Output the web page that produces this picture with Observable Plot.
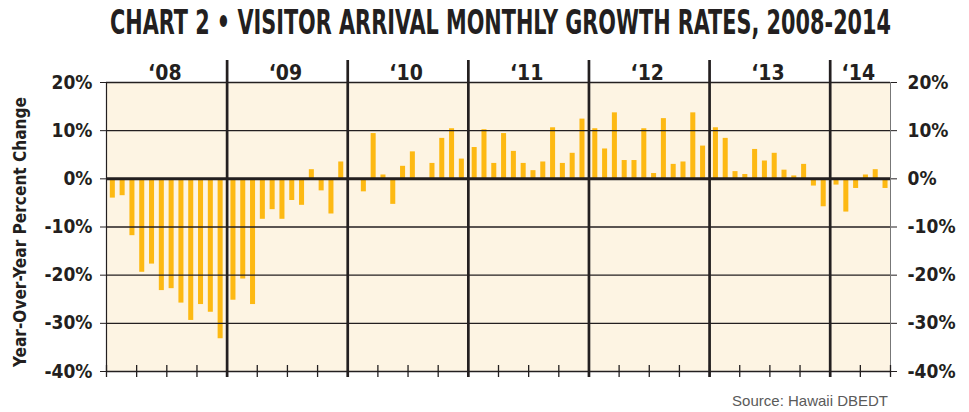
<!DOCTYPE html>
<html>
<head>
<meta charset="utf-8">
<script src="https://cdn.jsdelivr.net/npm/d3@7"></script>
<script src="https://cdn.jsdelivr.net/npm/@observablehq/plot@0.6"></script>
<style>
  html, body { margin: 0; padding: 0; background: #ffffff; }
  body { width: 969px; height: 412px; overflow: hidden; }
  #title {
    position: relative; height: 46px;
    font-family: "Liberation Sans Narrow", "DejaVu Sans Condensed", sans-serif;
    font-stretch: condensed; font-weight: bold; font-size: 30px; color: #231f20;
    white-space: nowrap;
  }
  #title span {
    position: absolute; left: 110px; top: 0; line-height: 46px;
    transform-origin: 0 50%;
  }
  #source {
    box-sizing: border-box; height: 29px; padding-top: 10px; padding-right: 81px;
    text-align: right; font-family: "Liberation Sans", Arial, sans-serif;
    font-size: 15px; color: #5a5a5a; line-height: 16px;
  }
  #chart svg { display: block; }
</style>
</head>
<body>
<div id="title"><span>CHART 2 • VISITOR ARRIVAL MONTHLY GROWTH RATES, 2008-2014</span></div>
<div id="chart"></div>
<div id="source">Source: Hawaii DBEDT</div>
<script>
// ---- data (year-over-year % change in visitor arrivals, by month) ----
const years = [2008, 2009, 2010, 2011, 2012, 2013, 2014];
const yearLabels = ["‘08", "‘09", "‘10", "‘11", "‘12", "‘13", "‘14"];
const growth2008 = [-4.0, -3.5, -11.8, -19.4, -17.7, -23.2, -22.8, -25.8, -29.4, -26.1, -27.7, -33.2];
const growth2009 = [-25.2, -20.8, -26.1, -8.4, -6.4, -8.4, -4.5, -5.5, 1.9, -2.5, -7.3, 3.5];
const growth2010 = [0, -2.7, 9.4, 0.8, -5.3, 2.6, 5.6, 0, 3.2, 8.4, 10.4, 4.1];
const growth2011 = [6.5, 10.2, 3.2, 9.4, 5.7, 3.2, 1.7, 3.5, 10.6, 3.2, 5.3, 12.4];
const growth2012 = [10.4, 6.2, 13.7, 3.8, 3.8, 10.4, 1.1, 12.5, 3.0, 3.5, 13.7, 6.8];
const growth2013 = [10.6, 8.4, 1.5, 0.9, 6.1, 3.7, 5.3, 1.8, 0.6, 3.0, -1.5, -5.8];
const growth2014 = [-1.3, -6.9, -2.0, 0.8, 1.9, -2.0];
const yTicks = [-40, -30, -20, -10, 0, 10, 20];
const yTitle = "Year-Over-Year Percent Change";

// ---- derived tables ----
const series = [growth2008, growth2009, growth2010, growth2011, growth2012, growth2013, growth2014];
const monthCounts = series.map(s => s.length);
const starts = monthCounts.map((_, i) => d3.sum(monthCounts.slice(0, i)));
const total = d3.sum(monthCounts);
const bars = series.flatMap((vals, yi) => vals.map((v, m) => ({yi, m, v})));
const quarters = d3.range(0, total + 1, 3);
const dividers = starts.slice(1);

// ---- layout ----
const W = 969, H = 337, mL = 106, mR = 79, mT = 36, mB = 12;
const yDom = [-40, 20];
const k = (H - mT - mB) / (yDom[1] - yDom[0]); // px per percentage point
const monthStep = 0.975, barOffset = 0.38, barWidth = 0.5;
const ink = "#231f20";
const font = "'Liberation Sans Narrow', 'DejaVu Sans Condensed', sans-serif";

const chart = Plot.plot({
  width: W, height: H,
  marginLeft: mL, marginRight: mR, marginTop: mT, marginBottom: mB,
  x: {domain: [0, total], axis: null},
  y: {domain: yDom, axis: null, label: null},
  style: {fontFamily: font, fontSize: "19px", fontWeight: "bold", color: ink, background: "#ffffff", overflow: "visible"},
  marks: [
    Plot.frame({fill: "#fdf4e3", stroke: null}),
    Plot.rect(bars, {
      x1: d => starts[d.yi] + barOffset + d.m * monthStep,
      x2: d => starts[d.yi] + barOffset + d.m * monthStep + barWidth,
      y1: 0, y2: "v", fill: "#fdb913"
    }),
    Plot.ruleY(yTicks.filter(t => t !== 0), {stroke: ink, strokeWidth: 1.3}),
    Plot.ruleY([0], {stroke: ink, strokeWidth: 3}),
    Plot.ruleX([0], {stroke: ink, strokeWidth: 1.2}),
    Plot.ruleX([total], {stroke: "#777", strokeWidth: 1}),
    Plot.ruleX(quarters, {y1: yDom[0] - 6 / k, y2: yDom[0] + 6 / k, stroke: ink, strokeWidth: 1.3}),
    Plot.ruleX(dividers, {y1: yDom[0] - 6 / k, y2: yDom[1] + 22 / k, stroke: ink, strokeWidth: 2.7}),
    Plot.axisY(yTicks, {anchor: "left", label: null, tickSize: 6, tickPadding: 8, tickFormat: d => `${d}%`, stroke: ink, fill: ink}),
    Plot.axisY(yTicks, {anchor: "right", label: null, tickSize: 6, tickPadding: 11, tickFormat: d => `${d}%`, stroke: ink, fill: ink}),
    Plot.text(yearLabels, {
      x: (d, i) => starts[i] + monthCounts[i] / 2,
      frameAnchor: "top", lineAnchor: "bottom", dy: -3, dx: -2,
      fontSize: 21, fontWeight: "bold", fill: ink
    }),
    Plot.text([yTitle], {
      frameAnchor: "left", textAnchor: "middle", lineAnchor: "middle",
      rotate: -90, dx: -86, dy: 5,
      fontSize: 17, fontWeight: "bold", fill: ink
    })
  ]
});
document.getElementById("chart").appendChild(chart);

// condense the rotated axis title to the reference's length
d3.select(chart).selectAll("text").filter(function() { return this.textContent === yTitle; })
  .attr("textLength", 270).attr("lengthAdjust", "spacingAndGlyphs");

// condense the heading to span the reference's width
const span = document.querySelector("#title span");
const w = span.getBoundingClientRect().width;
span.style.transform = `scale(${781 / w}, 1.1)`;
</script>
</body>
</html>
